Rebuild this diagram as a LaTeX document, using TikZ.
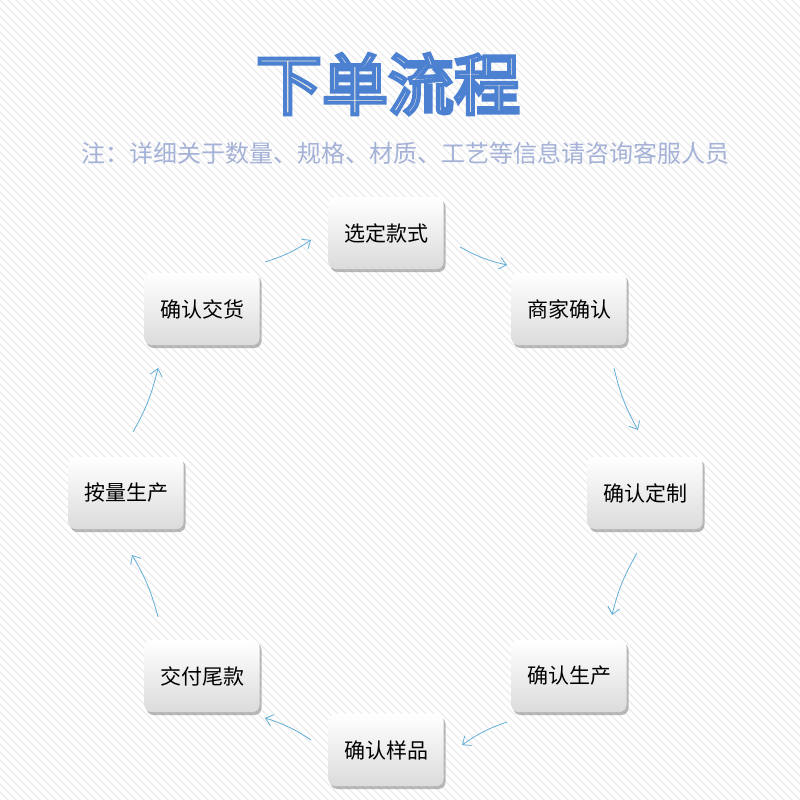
\documentclass[tikz,border=0pt]{standalone}
\usepackage{fontspec}
\newfontfamily\cjk{Noto Sans CJK SC}
\usetikzlibrary{shadows,arrows.meta}
\definecolor{arr}{RGB}{100,175,215}
\definecolor{sub}{RGB}{165,178,215}
\definecolor{tfill}{RGB}{245,238,225}
\tikzset{
 stepbox/.style={rounded corners=7pt,minimum width=115pt,minimum height=72pt,top color=white,bottom color=black!14,draw=none,
   drop shadow={shadow xshift=2pt,shadow yshift=-3pt,opacity=0.55},font=\cjk\fontsize{21pt}{21pt}\selectfont},
 flow/.style={draw=arr,line width=0.8pt,-{Straight Barb[length=7pt,width=12pt]}},
}
\begin{document}
\begin{tikzpicture}[x=1pt,y=-1pt]
\useasboundingbox (0,0) rectangle (800,800);
\fill[white] (0,0) rectangle (800,800);
\begin{scope}
\clip (0,0) rectangle (800,800);
\foreach \i in {-800,-792,...,800} \draw[black!8,line width=1.2pt] (\i,0) -- (\i+800,800);
\end{scope}
\node (title) [font=\cjk\fontsize{66pt}{66pt}\selectfont,text=tfill] at (388,84)
 {\special{pdf:code q 0.30 0.50 0.82 RG 4 w 2 Tr}下单流程\special{pdf:code Q}};
\node (sub) [font=\cjk\fontsize{24pt}{24pt}\selectfont,text=sub] at (405,153) {注：详细关于数量、规格、材质、工艺等信息请咨询客服人员};
\node[stepbox] (a) at (386,233) {选定款式};
\node[stepbox] (b) at (569,309) {商家确认};
\node[stepbox] (c) at (645,493) {确认定制};
\node[stepbox] (d) at (569,676) {确认生产};
\node[stepbox] (e) at (386,750) {确认样品};
\node[stepbox] (f) at (202,676) {交付尾款};
\node[stepbox] (g) at (126,493) {按量生产};
\node[stepbox] (h) at (202,309) {确认交货};
\coordinate (h1) at (265,262); \coordinate (a1) at (311,240);
\coordinate (a2) at (460,247); \coordinate (b1) at (507,265);
\coordinate (b2) at (614,368); \coordinate (c1) at (638,430);
\coordinate (c2) at (637,553); \coordinate (d1) at (612,615);
\coordinate (d2) at (507,722); \coordinate (e1) at (462,745);
\coordinate (e2) at (311,740); \coordinate (f1) at (265,718);
\coordinate (f2) at (158,617); \coordinate (g1) at (132,555);
\coordinate (g2) at (133,432); \coordinate (h2) at (158,368);
\draw[flow] (h1) to[bend right=8] (a1);
\draw[flow] (a2) to[bend right=8] (b1);
\draw[flow] (b2) to[bend right=8] (c1);
\draw[flow] (c2) to[bend right=8] (d1);
\draw[flow] (d2) to[bend right=8] (e1);
\draw[flow] (e2) to[bend right=8] (f1);
\draw[flow] (f2) to[bend right=8] (g1);
\draw[flow] (g2) to[bend right=8] (h2);
\end{tikzpicture}
\end{document}
